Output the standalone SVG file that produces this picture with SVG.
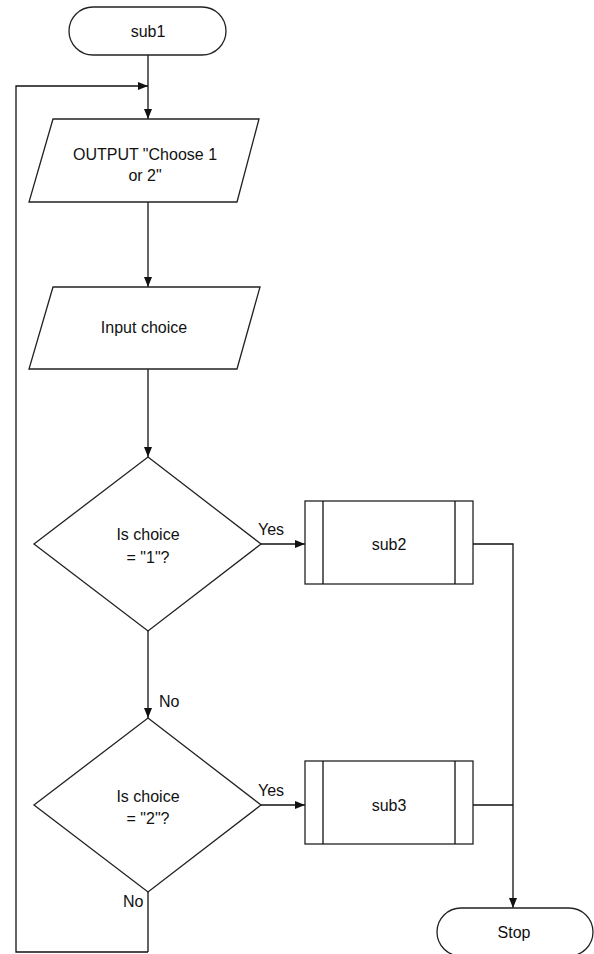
<svg xmlns="http://www.w3.org/2000/svg" width="594" height="954" viewBox="0 0 594 954">
<defs>
<style>
.s{fill:#fff;stroke:#222;stroke-width:1.3}
.c{fill:none;stroke:#111;stroke-width:1.3}
text{font-family:"Liberation Sans",Arial,sans-serif;font-size:16px;fill:#111}
.m{text-anchor:middle}
</style>
<marker id="ah" markerWidth="10" markerHeight="8" refX="10" refY="4" orient="auto" markerUnits="userSpaceOnUse">
<path d="M0,0 L10,4 L0,8 Z" fill="#111"/>
</marker>
</defs>
<rect width="594" height="954" fill="#fff"/>
<g id="connectors">
<path class="c" d="M148,55 V119" marker-end="url(#ah)"/>
<path class="c" d="M148,952 V892 M148,952 H16 V86 H148" marker-end="url(#ah)"/>
<path class="c" d="M148,202 V287" marker-end="url(#ah)"/>
<path class="c" d="M148,369 V457" marker-end="url(#ah)"/>
<path class="c" d="M261,544 H305" marker-end="url(#ah)"/>
<path class="c" d="M148,631 V718" marker-end="url(#ah)"/>
<path class="c" d="M261,805 H305" marker-end="url(#ah)"/>
<path class="c" d="M473,544 H513 V908" marker-end="url(#ah)"/>
<path class="c" d="M473,805 H513"/>
<text x="258" y="535">Yes</text>
<text x="258" y="796">Yes</text>
<text x="159" y="707">No</text>
<text x="123" y="907">No</text>
</g>
<g id="sub1">
<rect class="s" x="69" y="7" width="157" height="48" rx="24"/>
<text class="m" x="148" y="37">sub1</text>
</g>
<g id="output">
<polygon class="s" points="53,119 259,119 237,202 29,202"/>
<text class="m" x="145" y="160">OUTPUT "Choose 1</text>
<text class="m" x="145" y="181">or 2"</text>
</g>
<g id="input">
<polygon class="s" points="53,287 260,287 237,369 29,369"/>
<text class="m" x="144" y="333">Input choice</text>
</g>
<g id="dec1">
<polygon class="s" points="148,457 261,544 148,631 34,544"/>
<text class="m" x="148" y="540">Is choice</text>
<text class="m" x="148" y="563">= "1"?</text>
</g>
<g id="sub2">
<rect class="s" x="305" y="501" width="168" height="83"/>
<path class="c" d="M323,501 V584 M455,501 V584"/>
<text class="m" x="389" y="550">sub2</text>
</g>
<g id="dec2">
<polygon class="s" points="148,718 261,805 148,892 34,805"/>
<text class="m" x="148" y="802">Is choice</text>
<text class="m" x="148" y="824">= "2"?</text>
</g>
<g id="sub3">
<rect class="s" x="305" y="761" width="168" height="83"/>
<path class="c" d="M323,761 V844 M455,761 V844"/>
<text class="m" x="389" y="811">sub3</text>
</g>
<g id="stop">
<rect class="s" x="437" y="908" width="156" height="48" rx="24"/>
<text class="m" x="514" y="938">Stop</text>
</g>
</svg>
